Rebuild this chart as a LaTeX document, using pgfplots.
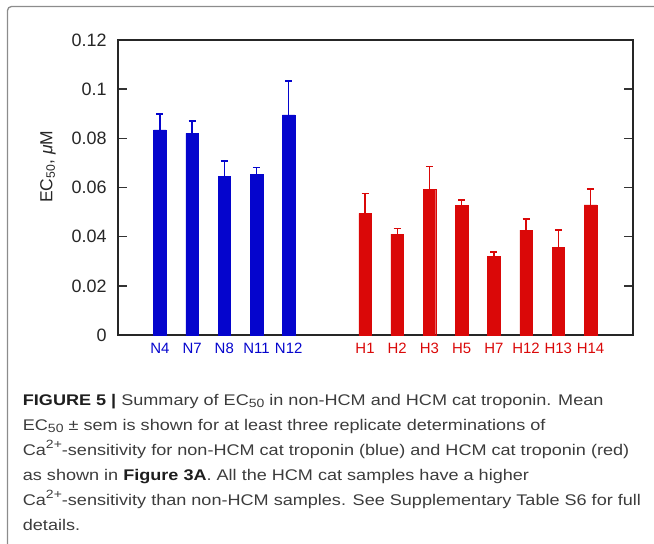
\documentclass[border=0pt]{standalone}
\usepackage{fontspec}
\setmainfont{Liberation Sans}
\newfontfamily\capfont{Liberation Sans}[FakeStretch=1.17]
\usepackage{pgfplots}
\pgfplotsset{compat=1.18}
\definecolor{nblue}{RGB}{5,5,205}
\definecolor{hred}{RGB}{218,8,8}
\definecolor{captxt}{RGB}{60,60,60}
\definecolor{capbold}{RGB}{30,30,30}
\newcommand{\csub}[1]{\raisebox{-0.35ex}{\fontsize{12}{12}\selectfont #1}}
\newcommand{\csup}[1]{\raisebox{0.75ex}{\fontsize{12}{12}\selectfont #1}}
\begin{document}
\begin{tikzpicture}
\path[use as bounding box] (0,0) rectangle (654bp,-544bp);
\draw[black!45, line width=1.3bp, rounded corners=4bp] (7.5bp,-546bp) -- (7.5bp,-6.5bp) -- (656bp,-6.5bp);
\begin{axis}[
  at={(118bp,-335bp)}, anchor=south west,
  scale only axis, width=515bp, height=295bp,
  xmin=-1.30, xmax=14.69, ymin=0, ymax=0.12,
  ybar,
  ytick={0,0.02,0.04,0.06,0.08,0.1,0.12},
  yticklabels={0,0.02,0.04,0.06,0.08,0.1,0.12},
  xtick={0,1,2,3,4,6.37,7.37,8.37,9.37,10.37,11.37,12.37,13.37},
  xticklabels={\textcolor{nblue}{N4},\textcolor{nblue}{N7},\textcolor{nblue}{N8},\textcolor{nblue}{N11},\textcolor{nblue}{N12},
    \textcolor{hred}{H1},\textcolor{hred}{H2},\textcolor{hred}{H3},\textcolor{hred}{H5},\textcolor{hred}{H7},\textcolor{hred}{H12},\textcolor{hred}{H13},\textcolor{hred}{H14}},
  major x tick style={draw=none},
  tick align=inside,
  major tick length=9bp,
  ytick pos=both,
  axis line style={line width=1.6bp, black!85},
  major y tick style={line width=1.4bp, black!80},
  yticklabel style={font=\fontsize{18}{18}\selectfont, text=black!85, xshift=-8bp},
  xticklabel style={font=\fontsize{15}{15}\selectfont, yshift=-5bp},
  ylabel={EC\textsubscript{50}, \textit{μ}M},
  ylabel style={font=\fontsize{17.5}{17.5}\selectfont, text=black!85, at={(axis description cs:-0.136,0.57)}, anchor=center},
  clip=false,
]
\addplot[bar shift=0pt, bar width=0.39, fill=nblue, draw=nblue,
  error bars/.cd, y dir=plus, y explicit,
  error bar style={nblue, line width=1.4bp},
  error mark options={nblue, rotate=90, mark size=3.5bp, line width=1.7bp}]
  coordinates {
  (0,0.0834) +- (0,0.0065)
  (1,0.0820) +- (0,0.0051)
  (2,0.0644) +- (0,0.0064)
  (3,0.0654) +- (0,0.0027)
  (4,0.0895) +- (0,0.0138)
  };
\addplot[bar shift=0pt, bar width=0.39, fill=hred, draw=hred,
  error bars/.cd, y dir=plus, y explicit,
  error bar style={hred, line width=1.4bp},
  error mark options={hred, rotate=90, mark size=3.5bp, line width=1.7bp}]
  coordinates {
  (6.37,0.0495) +- (0,0.0081)
  (7.37,0.0410) +- (0,0.0023)
  (8.37,0.0593) +- (0,0.0093)
  (9.37,0.0528) +- (0,0.0020)
  (10.37,0.0319) +- (0,0.0020)
  (11.37,0.0427) +- (0,0.0044)
  (12.37,0.0357) +- (0,0.0071)
  (13.37,0.0529) +- (0,0.0065)
  };
\end{axis}
\begin{scope}[text=captxt, font=\capfont\fontsize{15.5}{18}\selectfont]
\node[anchor=base west, inner sep=0pt] at (22.7bp,-405bp) {\textcolor{capbold}{\textbf{FIGURE 5 |}} Summary of EC\csub{50} in non-HCM and HCM cat troponin. Mean};
\node[anchor=base west, inner sep=0pt] at (22.7bp,-430bp) {EC\csub{50} ± sem is shown for at least three replicate determinations of};
\node[anchor=base west, inner sep=0pt] at (22.7bp,-455bp) {Ca\csup{2+}-sensitivity for non-HCM cat troponin (blue) and HCM cat troponin (red)};
\node[anchor=base west, inner sep=0pt] at (22.7bp,-480bp) {as shown in \textcolor{capbold}{\textbf{Figure 3A}}. All the HCM cat samples have a higher};
\node[anchor=base west, inner sep=0pt] at (22.7bp,-505bp) {Ca\csup{2+}-sensitivity than non-HCM samples. See Supplementary Table S6 for full};
\node[anchor=base west, inner sep=0pt] at (22.7bp,-530bp) {details.};
\end{scope}
\end{tikzpicture}
\end{document}
